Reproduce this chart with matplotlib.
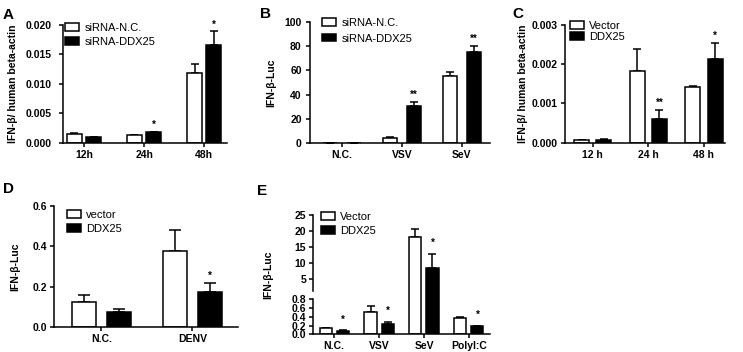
import numpy as np
import matplotlib
matplotlib.use('Agg')
from matplotlib import pyplot as plt

plt.rcParams['font.family'] = ['Liberation Sans', 'DejaVu Sans']

# panel A
a_groups = ['12h', '24h', '48h']
a_nc = [0.0014, 0.00125, 0.0118]
a_nc_err = [0.0002, 0.0001, 0.0016]
a_ddx = [0.0009, 0.00177, 0.0166]
a_ddx_err = [0.0001, 0.00013, 0.0023]
a_stars = ['', '*', '*']

# panel B
b_groups = ['N.C.', 'VSV', 'SeV']
b_nc = [0, 3.5, 55.4]
b_nc_err = [0, 1.0, 3.1]
b_ddx = [0, 30.5, 75.6]
b_ddx_err = [0, 3.5, 4.7]
b_stars = ['', '**', '**']

# panel C
c_groups = ['12 h', '24 h', '48 h']
c_vec = [0.00006, 0.00183, 0.00141]
c_vec_err = [0.00001, 0.00057, 0.00004]
c_ddx = [0.00008, 0.0006, 0.00213]
c_ddx_err = [0.00001, 0.00023, 0.00042]
c_stars = ['', '**', '*']

# panel D
d_groups = ['N.C.', 'DENV']
d_vec = [0.124, 0.377]
d_vec_err = [0.034, 0.105]
d_ddx = [0.076, 0.172]
d_ddx_err = [0.012, 0.045]
d_stars = ['', '*']

# panel E (broken y axis)
e_groups = ['N.C.', 'VSV', 'SeV', 'PolyI:C']
e_vec = [0.137, 0.52, 18.0, 0.37]
e_vec_err = [0.015, 0.13, 2.7, 0.02]
e_ddx = [0.08, 0.235, 8.6, 0.19]
e_ddx_err = [0.01, 0.055, 4.3, 0.01]
e_stars = ['*', '*', '*', '*']

W, H = 743, 352
LW = 1.1
TFS = 7.5

fig = plt.figure(figsize=(W / 100, H / 100), dpi=100)


def add_ax(left, top, right, bottom):
    return fig.add_axes([left / W, 1 - bottom / H, (right - left) / W, (bottom - top) / H])


def draw(ax, groups, v1, e1, v2, e2, stars, labels, width, off, cap, star_pad=1.5, ypad=2):
    x = np.arange(len(groups))
    b1 = ax.bar(x - off, v1, width, color='white', edgecolor='black', linewidth=LW,
                label=labels[0], zorder=2)
    b2 = ax.bar(x + off, v2, width, color='black', edgecolor='black', linewidth=LW,
                label=labels[1], zorder=2)
    ax.errorbar(x - off, v1, yerr=[np.zeros(len(x)), e1], fmt='none', ecolor='black',
                elinewidth=LW, capsize=cap, capthick=LW, zorder=1)
    ax.errorbar(x + off, v2, yerr=[np.zeros(len(x)), e2], fmt='none', ecolor='black',
                elinewidth=LW, capsize=cap, capthick=LW, zorder=1)
    for xi, v, e, s in zip(x + off, v2, e2, stars):
        if s:
            ax.annotate(s, (xi, v + e), xytext=(0, star_pad), textcoords='offset points',
                        ha='center', va='bottom', fontsize=7, fontweight='bold')
    ax.set_xticks(x)
    ax.set_xticklabels(groups, fontsize=TFS, fontweight='bold')
    for sp in ['top', 'right']:
        ax.spines[sp].set_visible(False)
    for sp in ['left', 'bottom']:
        ax.spines[sp].set_linewidth(LW)
    ax.tick_params(width=LW, length=3, labelsize=TFS, pad=2)
    ax.tick_params(axis='y', pad=ypad)
    return b1, b2


def legend(ax, x0, y0, spacing):
    # x0, y0 in figure pixels: left edge of the box and top of legend
    ax.legend(frameon=False, loc='upper left',
              bbox_to_anchor=(x0 / W, 1 - y0 / H), bbox_transform=fig.transFigure,
              borderaxespad=0, borderpad=0, handlelength=1.3, handleheight=0.65,
              handletextpad=0.45, labelspacing=spacing, fontsize=8)


def ylab(ax, text, xpix):
    # xpix: right edge of the rotated label, figure pixels
    l, b, w, h = ax.get_position().bounds
    ax.set_ylabel(text, fontsize=7.5, fontweight='bold')
    ax.yaxis.set_label_coords((xpix / W - l) / w, 0.5)


# A
ax = add_ax(63, 25, 227, 142.7)
draw(ax, a_groups, a_nc, a_nc_err, a_ddx, a_ddx_err, a_stars,
     ['siRNA-N.C.', 'siRNA-DDX25'], 0.25, 0.16, 3.2, ypad=5)
ax.set_xlim(-0.35, 2.38)
ax.set_ylim(0, 0.02)
ax.set_yticks([0, 0.005, 0.01, 0.015, 0.02])
ax.set_yticklabels(['0.000', '0.005', '0.010', '0.015', '0.020'], fontweight='bold')
legend(ax, 65, 23, 0.35)
ylab(ax, 'IFN-β/ human beta-actin', 18)

# B
ax = add_ax(310, 22.3, 490, 142.7)
draw(ax, b_groups, b_nc, b_nc_err, b_ddx, b_ddx_err, b_stars,
     ['siRNA-N.C.', 'siRNA-DDX25'], 0.23, 0.2, 3.2, ypad=3)
ax.set_xlim(-0.53, 2.47)
ax.set_ylim(0, 100)
ax.set_yticks([0, 20, 40, 60, 80, 100])
ax.set_yticklabels(['0', '20', '40', '60', '80', '100'], fontweight='bold')
legend(ax, 322, 18, 0.5)
ylab(ax, 'IFN-β-Luc', 276)

# C
ax = add_ax(565, 25, 725, 142.7)
draw(ax, c_groups, c_vec, c_vec_err, c_ddx, c_ddx_err, c_stars,
     ['Vector', 'DDX25'], 0.27, 0.2, 3.2)
ax.set_xlim(-0.5, 2.38)
ax.set_ylim(0, 0.003)
ax.set_yticks([0, 0.001, 0.002, 0.003])
ax.set_yticklabels(['0.000', '0.001', '0.002', '0.003'], fontweight='bold')
legend(ax, 570, 21, 0.1)
ylab(ax, 'IFN-β/ human beta-actin', 528)

# D
ax = add_ax(54, 206, 238, 327)
draw(ax, d_groups, d_vec, d_vec_err, d_ddx, d_ddx_err, d_stars,
     ['vector', 'DDX25'], 0.26, 0.19, 4.3)
ax.set_xlim(-0.52, 1.5)
ax.set_ylim(0, 0.6)
ax.set_yticks([0, 0.2, 0.4, 0.6])
ax.set_yticklabels(['0.0', '0.2', '0.4', '0.6'], fontweight='bold')
legend(ax, 67, 210, 0.35)
ylab(ax, 'IFN-β-Luc', 20)

# E: one axis with a piecewise linear scale for the break
ys = [-10, 0, 0.8, 1.4, 25, 200]
ts = [-437.5, 0, 35, 43.6, 119.1, 119.1 + 175 * 3.2]


def fwd(y):
    return np.interp(y, ys, ts)


def inv(t):
    return np.interp(t, ts, ys)


ax = add_ax(313, 215, 490, 334.3)
ax.set_yscale('function', functions=(fwd, inv))
draw(ax, e_groups, e_vec, e_vec_err, e_ddx, e_ddx_err, e_stars,
     ['Vector', 'DDX25'], 0.27, 0.19, 3.2, star_pad=4)
ax.set_xlim(-0.47, 3.47)
ax.set_ylim(0, 25)
e_ticks = [0, 0.2, 0.4, 0.6, 0.8, 5, 10, 15, 20, 25]
ax.set_yticks(e_ticks)
ax.set_yticklabels(['0.0', '0.2', '0.4', '0.6', '0.8', '5', '10', '15', '20', '25'],
                   fontweight='bold')
ax.minorticks_off()
ax.spines['left'].set_visible(False)
ytr = ax.get_yaxis_transform()
ax.plot([0, 0], [0, 0.8], color='black', lw=LW, transform=ytr, clip_on=False)
ax.plot([0, 0], [1.4, 25], color='black', lw=LW, transform=ytr, clip_on=False)
legend(ax, 321, 212, 0.35)
ylab(ax, 'IFN-β-Luc', 273)

# panel letters
for letter, xp, yp in [('A', 3, 19), ('B', 260, 18), ('C', 512, 18),
                       ('D', 3, 193), ('E', 257, 195)]:
    fig.text(xp / W, 1 - yp / H, letter, fontsize=11, fontweight='bold', va='baseline')

plt.savefig('out.png', dpi=100)
